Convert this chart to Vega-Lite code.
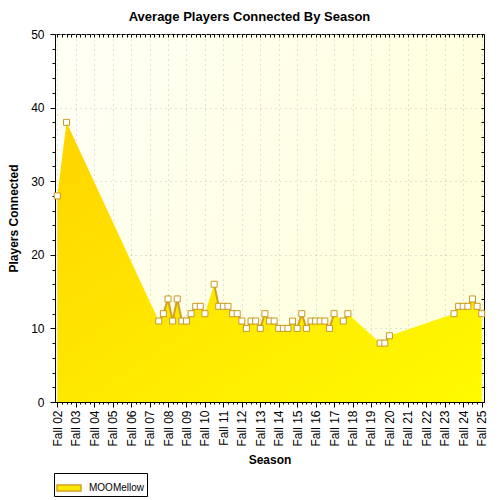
{
  "$schema": "https://vega.github.io/schema/vega-lite/v6.json",
  "autosize": "none",
  "width": 429,
  "height": 368,
  "padding": {"left": 55, "top": 34, "right": 16, "bottom": 98},
  "background": "white",
  "title": {
    "text": "Average Players Connected By Season",
    "font": "Liberation Sans",
    "fontSize": 13,
    "fontWeight": "bold",
    "color": "black",
    "anchor": "middle",
    "dx": -20,
    "offset": 4
  },
  "config": {
    "font": "Liberation Sans",
    "view": {
      "stroke": "black",
      "strokeWidth": 1,
      "fill": {
        "gradient": "linear", "x1": 0, "y1": 0, "x2": 1, "y2": 0.4,
        "stops": [{"offset": 0, "color": "#FFFFF6"}, {"offset": 1, "color": "#FFFFDC"}]
      }
    },
    "axis": {
      "domainColor": "black",
      "tickColor": "black",
      "labelColor": "black",
      "titleColor": "black",
      "labelFont": "Liberation Sans",
      "titleFont": "Liberation Sans"
    }
  },
  "data": {
    "values": [
      {"quarter": 0, "players": 28},
      {"quarter": 1, "players": null},
      {"quarter": 2, "players": 38},
      {"quarter": 3, "players": null},
      {"quarter": 22, "players": 11},
      {"quarter": 23, "players": 12},
      {"quarter": 24, "players": 14},
      {"quarter": 25, "players": 11},
      {"quarter": 26, "players": 14},
      {"quarter": 27, "players": 11},
      {"quarter": 28, "players": 11},
      {"quarter": 29, "players": 12},
      {"quarter": 30, "players": 13},
      {"quarter": 31, "players": 13},
      {"quarter": 32, "players": 12},
      {"quarter": 33, "players": null},
      {"quarter": 34, "players": 16},
      {"quarter": 35, "players": 13},
      {"quarter": 36, "players": 13},
      {"quarter": 37, "players": 13},
      {"quarter": 38, "players": 12},
      {"quarter": 39, "players": 12},
      {"quarter": 40, "players": 11},
      {"quarter": 41, "players": 10},
      {"quarter": 42, "players": 11},
      {"quarter": 43, "players": 11},
      {"quarter": 44, "players": 10},
      {"quarter": 45, "players": 12},
      {"quarter": 46, "players": 11},
      {"quarter": 47, "players": 11},
      {"quarter": 48, "players": 10},
      {"quarter": 49, "players": 10},
      {"quarter": 50, "players": 10},
      {"quarter": 51, "players": 11},
      {"quarter": 52, "players": 10},
      {"quarter": 53, "players": 12},
      {"quarter": 54, "players": 10},
      {"quarter": 55, "players": 11},
      {"quarter": 56, "players": 11},
      {"quarter": 57, "players": 11},
      {"quarter": 58, "players": 11},
      {"quarter": 59, "players": 10},
      {"quarter": 60, "players": 12},
      {"quarter": 61, "players": null},
      {"quarter": 62, "players": 11},
      {"quarter": 63, "players": 12},
      {"quarter": 64, "players": null},
      {"quarter": 70, "players": 8},
      {"quarter": 71, "players": 8},
      {"quarter": 72, "players": 9},
      {"quarter": 73, "players": null},
      {"quarter": 86, "players": 12},
      {"quarter": 87, "players": 13},
      {"quarter": 88, "players": 13},
      {"quarter": 89, "players": 13},
      {"quarter": 90, "players": 14},
      {"quarter": 91, "players": 13},
      {"quarter": 92, "players": 12}
    ]
  },
  "layer": [
    {
      "transform": [{"filter": "datum.players != null"}],
      "mark": {
        "type": "area",
        "fill": {
          "gradient": "linear", "x1": 0, "y1": 0, "x2": 1, "y2": 1,
          "stops": [
            {"offset": 0, "color": "#FFD400"},
            {"offset": 0.5, "color": "#FFE800"},
            {"offset": 1, "color": "#FFFA00"}
          ]
        }
      },
      "encoding": {
        "x": {
          "field": "quarter",
          "type": "quantitative",
          "scale": {"domain": [-0.5, 92.5], "nice": false, "zero": false},
          "axis": {
            "orient": "bottom",
            "title": "Season",
            "titleFontSize": 12,
            "titleFontWeight": "bold",
            "titlePadding": 8,
            "values": [0,1,2,3,4,5,6,7,8,9,10,11,12,13,14,15,16,17,18,19,20,21,22,23,24,25,26,27,28,29,30,31,32,33,34,35,36,37,38,39,40,41,42,43,44,45,46,47,48,49,50,51,52,53,54,55,56,57,58,59,60,61,62,63,64,65,66,67,68,69,70,71,72,73,74,75,76,77,78,79,80,81,82,83,84,85,86,87,88,89,90,91,92],
            "labelExpr": "datum.value % 4 === 0 ? 'Fall ' + (2 + datum.value / 4 < 10 ? '0' : '') + (2 + datum.value / 4) : ''",
            "labelAngle": 270,
            "labelFontSize": 12,
            "labelOverlap": false,
            "labelPadding": 3,
            "tickSize": {"condition": {"test": "datum.value % 4 === 0", "value": 5}, "value": 2},
            "grid": true,
            "gridColor": {"condition": {"test": "datum.value % 4 === 0", "value": "#C4C4C4"}, "value": "transparent"},
            "gridDash": [1, 4]
          }
        },
        "y": {
          "field": "players",
          "type": "quantitative",
          "scale": {"domain": [0, 50], "nice": false},
          "axis": {
            "orient": "left",
            "title": "Players Connected",
            "titleFontSize": 12,
            "titleFontWeight": "bold",
            "titlePadding": 10,
            "values": [0,2,4,6,8,10,12,14,16,18,20,22,24,26,28,30,32,34,36,38,40,42,44,46,48,50],
            "labelExpr": "datum.value % 10 === 0 ? datum.label : ''",
            "labelFontSize": 12,
            "labelPadding": 6,
            "tickSize": {"condition": {"test": "datum.value % 10 === 0", "value": 5}, "value": 3},
            "grid": true,
            "gridColor": {"condition": {"test": "datum.value % 10 === 0 && datum.value > 0", "value": "#C4C4C4"}, "value": "transparent"},
            "gridDash": [1, 4]
          }
        }
      }
    },
    {
      "mark": {"type": "line", "strokeWidth": 2},
      "encoding": {
        "x": {
          "field": "quarter",
          "type": "quantitative",
          "axis": {
            "orient": "top",
            "title": null,
            "labels": false,
            "domain": false,
            "grid": false,
            "values": [0,1,2,3,4,5,6,7,8,9,10,11,12,13,14,15,16,17,18,19,20,21,22,23,24,25,26,27,28,29,30,31,32,33,34,35,36,37,38,39,40,41,42,43,44,45,46,47,48,49,50,51,52,53,54,55,56,57,58,59,60,61,62,63,64,65,66,67,68,69,70,71,72,73,74,75,76,77,78,79,80,81,82,83,84,85,86,87,88,89,90,91,92],
            "tickSize": -3
          }
        },
        "y": {
          "field": "players",
          "type": "quantitative",
          "axis": {
            "orient": "right",
            "title": null,
            "labels": false,
            "domain": false,
            "grid": false,
            "values": [0,2,4,6,8,10,12,14,16,18,20,22,24,26,28,30,32,34,36,38,40,42,44,46,48,50],
            "tickSize": -3
          }
        },
        "stroke": {
          "datum": "MOOMellow",
          "type": "nominal",
          "scale": {"range": ["#D4A01E"]},
          "legend": {
            "orient": "none",
            "legendX": -1,
            "legendY": 439,
            "title": null,
            "direction": "horizontal",
            "strokeColor": "black",
            "fillColor": "white",
            "padding": 2,
            "labelFont": "Liberation Sans",
            "labelFontSize": 10,
            "labelColor": "black",
            "labelOffset": 7,
            "symbolType": "M-1,-0.25L1,-0.25L1,0.25L-1,0.25Z",
            "symbolSize": 576,
            "symbolStrokeWidth": 1.5,
            "encode": {"symbols": {"update": {"fill": {"value": "#FFE800"}}}}
          }
        }
      }
    },
    {
      "mark": {
        "type": "point",
        "shape": "square",
        "filled": true,
        "fill": "white",
        "stroke": "#C99A1C",
        "strokeWidth": 1,
        "size": 36,
        "opacity": 1
      },
      "encoding": {
        "x": {"field": "quarter", "type": "quantitative", "axis": null},
        "y": {"field": "players", "type": "quantitative", "axis": null}
      }
    }
  ]
}
